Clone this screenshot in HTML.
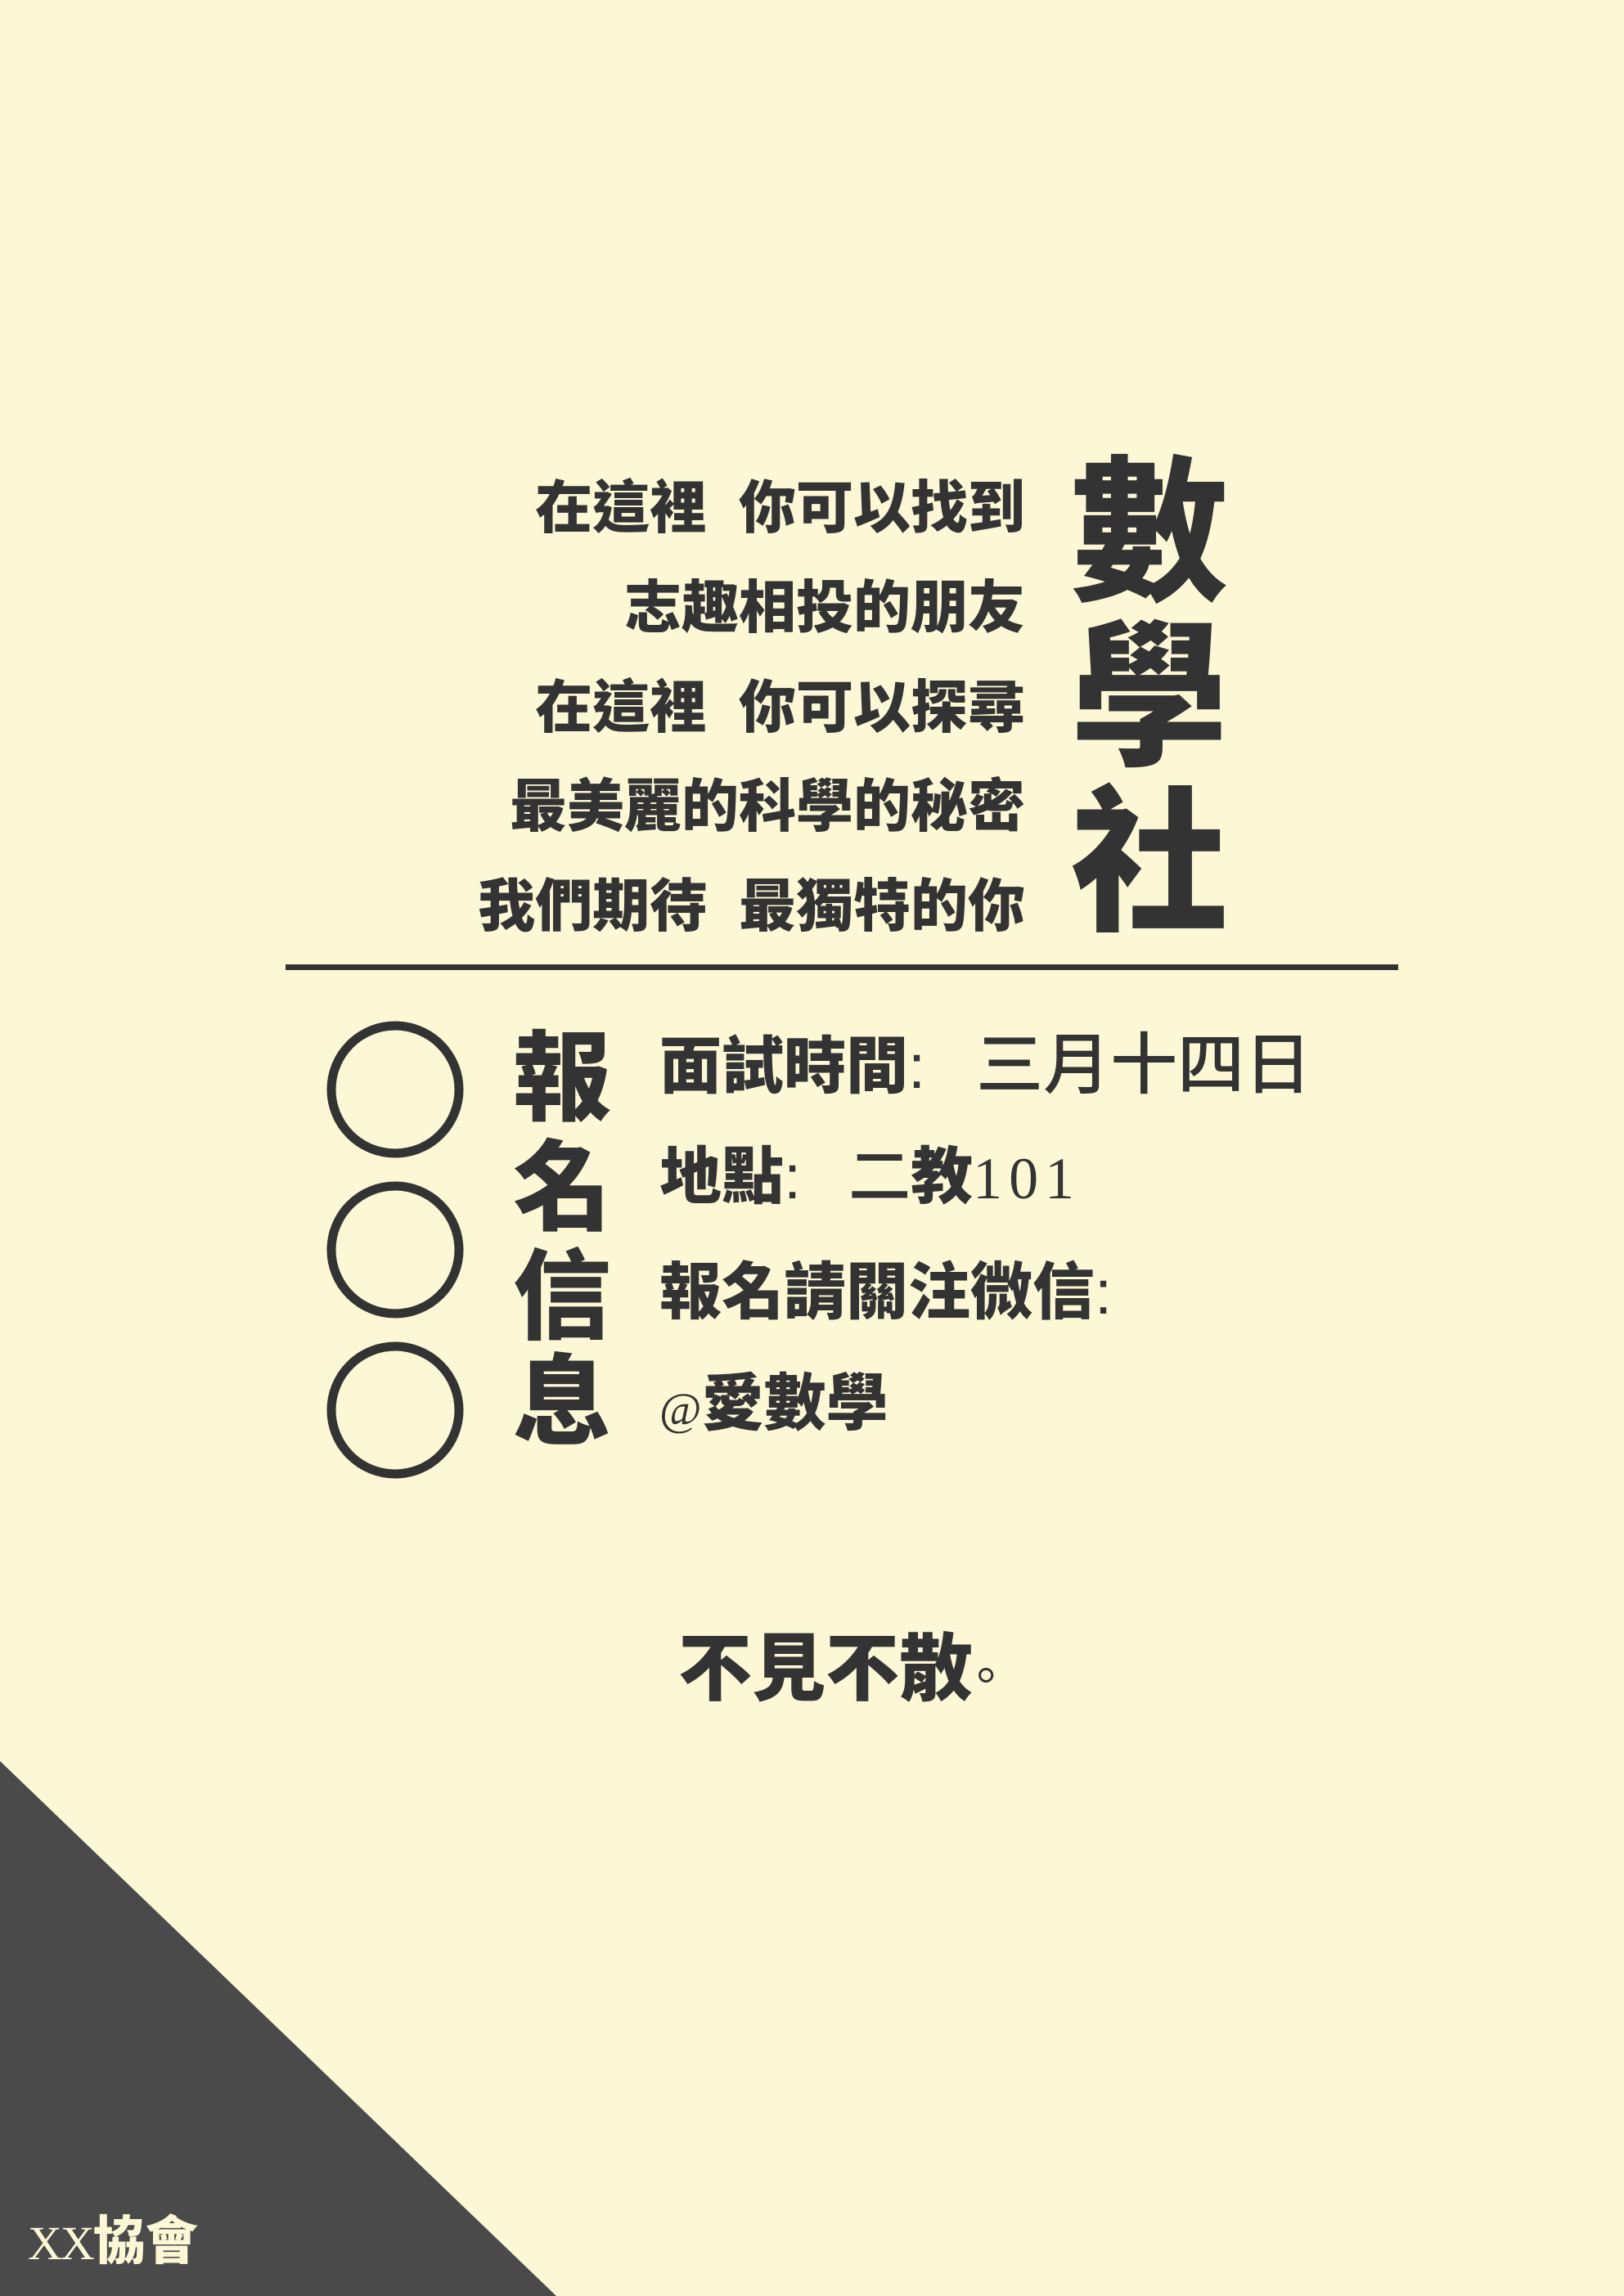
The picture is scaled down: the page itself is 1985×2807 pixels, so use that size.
<!DOCTYPE html>
<html><head><meta charset="utf-8">
<style>
html,body{margin:0;padding:0}
body{width:1985px;height:2807px;background:#fcf8d6;position:relative;overflow:hidden;color:#333;font-family:"Liberation Sans","Noto Sans CJK TC",sans-serif}
.a{position:absolute;line-height:1;white-space:nowrap;font-weight:900}
.r{right:732px;font-size:70px;text-align:right}
.big{left:1305px;font-size:192px;width:200px;text-align:center}
.v{left:625px;font-size:120px;width:124px;text-align:center}
.i{left:806px;font-size:76px}
.l{font-weight:400;font-family:"Liberation Serif","Noto Serif CJK SC",serif}
</style></head><body>
<div class="a r" style="top:586px">在這裡&nbsp;&nbsp;你可以找到</div>
<div class="a r" style="top:708px">志趣相投的朋友</div>
<div class="a r" style="top:830px">在這裡&nbsp;&nbsp;你可以探尋</div>
<div class="a r" style="top:951px">最美麗的科學的秘密</div>
<div class="a r" style="top:1073px">我們期待&nbsp;&nbsp;最獨特的你</div>
<div class="a big" style="top:557px">數</div>
<div class="a big" style="top:758px">學</div>
<div class="a big" style="top:960px">社</div>
<div style="position:absolute;left:349px;top:1179px;width:1360px;height:7px;background:#333"></div>
<svg style="position:absolute;left:0;top:0" width="1985" height="2807">
<circle cx="483" cy="1332" r="78" fill="none" stroke="#333" stroke-width="11"/>
<circle cx="483" cy="1528" r="78" fill="none" stroke="#333" stroke-width="11"/>
<circle cx="483" cy="1724" r="78" fill="none" stroke="#333" stroke-width="11"/>
<polygon points="0,2153 680,2807 0,2807" fill="#4a4a4a"/>
</svg>
<div class="a v" style="top:1259px">報</div>
<div class="a v" style="top:1393px">名</div>
<div class="a v" style="top:1526px">信</div>
<div class="a v" style="top:1655px">息</div>
<div class="a i" style="top:1262px">面試時間<span style="font-weight:400">:</span><span style="display:inline-block;width:62px"></span><span style="font-weight:500;font-size:82px">三月十四日</span></div>
<div class="a i" style="top:1402px">地點<span style="font-weight:400">:</span><span style="display:inline-block;width:58px"></span><span style="font-weight:500">二</span>教<span class="l" style="letter-spacing:8px;font-size:72px">101</span></div>
<div class="a i" style="top:1543px">報名請關注微信<span style="font-weight:400">:</span></div>
<div class="a i" style="top:1679px"><span class="l" style="font-size:56px">@</span>愛數學</div>
<div class="a" style="left:829px;top:1996px;font-size:90px">不見不散<span style="font-weight:400;font-size:60px;margin-left:-14px">。</span></div>
<div class="a" style="left:34px;top:2708px;font-size:64px;color:#fcf8d6"><span class="l" style="font-size:58px;letter-spacing:-2px">XX</span>協會</div>
</body></html>
